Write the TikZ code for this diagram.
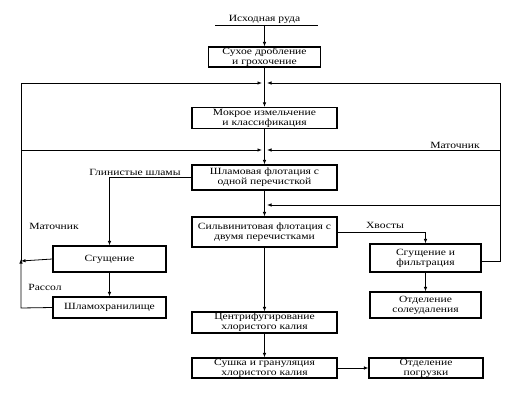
\documentclass[tikz,border=0pt]{standalone}
\usepackage{fontspec}
\setmainfont{Liberation Serif}[FakeStretch=1.22]
\usetikzlibrary{arrows.meta}
\begin{document}
\begin{tikzpicture}[x=1pt,y=-1pt,
  box/.style={draw,line width=1.1pt,align=center,inner sep=0pt,font=\fontsize{9.5}{10}\selectfont},
  lbl/.style={inner sep=0pt,font=\fontsize{9.5}{10}\selectfont},
  ar/.style={-{Latex[length=4.5pt,width=3.5pt]},line width=0.8pt},
  ln/.style={line width=0.8pt}]
\useasboundingbox (0,0) rectangle (505,411);
\node[lbl] (src) at (264.5,19) {Исходная руда};
\coordinate (srcL) at (215,25);
\coordinate (srcR) at (318,25);
\coordinate (srcM) at (264.5,25);
\draw[ln] (srcL) -- (srcR);
\node[box,minimum width=112pt,minimum height=20pt] (b1) at (264.5,57) {Сухое дробление\\и грохочение};
\node[box,minimum width=145pt,minimum height=21pt] (b2) at (264.5,118) {Мокрое измельчение\\и классификация};
\node[box,minimum width=145pt,minimum height=25pt] (b3) at (264.5,177.5) {Шламовая флотация с\\одной перечисткой};
\node[box,minimum width=145pt,minimum height=30pt] (b4) at (264.5,232) {Сильвинитовая флотация с\\двумя перечистками};
\node[box,minimum width=145pt,minimum height=21pt] (b5) at (264.5,322.5) {Центрифугирование\\хлористого калия};
\node[box,minimum width=145pt,minimum height=20pt] (b6) at (264.5,368) {Сушка и грануляция\\хлористого калия};
\node[box,minimum width=113pt,minimum height=26pt] (sg) at (109.5,259) {Сгущение};
\node[box,minimum width=113pt,minimum height=21pt] (sh) at (109.5,307.5) {Шламохранилище};
\node[box,minimum width=111pt,minimum height=28pt] (sf) at (425.5,258) {Сгущение и\\фильтрация};
\node[box,minimum width=111pt,minimum height=26pt] (so) at (425.5,305) {Отделение\\солеудаления};
\node[box,minimum width=114pt,minimum height=20pt] (op) at (426,368) {Отделение\\погрузки};

\node[lbl] (m1) at (455,145) {Маточник};
\node[lbl] (m2) at (54,226) {Маточник};
\node[lbl] (ras) at (45,287) {Рассол};
\node[lbl] (gl) at (135,172) {Глинистые шламы};
\node[lbl] (hv) at (385,225) {Хвосты};

\coordinate (L1) at (21,83);
\coordinate (L2) at (21,150);
\coordinate (Lsg) at (21,261);
\coordinate (Lsh) at (21,308);
\coordinate (R1) at (500,83);
\coordinate (R2) at (500,150);
\coordinate (R3) at (500,205);
\coordinate (Rsf) at (500,261);
\coordinate (J1l) at (262,83);
\coordinate (J1r) at (267,83);
\coordinate (J2l) at (262,150);
\coordinate (J2r) at (267,150);
\coordinate (J3r) at (267,205);

\draw[ar] (srcM) -- (b1.north);
\draw[ar] (b1.south) -- (b2.north);
\draw[ar] (b2.south) -- (b3.north);
\draw[ar] (b3.south) -- (b4.north);
\draw[ar] (b4.south) -- (b5.north);
\draw[ar] (b5.south) -- (b6.north);
\draw[ar] (b6.east) -- (op.west);
\draw[ar] (b4.east) -| (sf.north);
\draw[ar] (sf.south) -- (so.north);
\draw[ar] (b3.west) -| (sg.north);
\draw[ar] (sg.south) -- (sh.north);
\draw[ar] (sg.west) -- (Lsg);
\draw[ar] (sh.west) -- (Lsh) -- ([yshift=2pt]Lsg);
\draw[ln] (Lsg) -- (L1);
\draw[ar] (L1) -- (J1l);
\draw[ar] (L2) -- (J2l);
\draw[ln] (sf.east |- Rsf) -- (Rsf) -- (R1);
\draw[ar] (R1) -- (J1r);
\draw[ar] (R2) -- (J2r);
\draw[ar] (R3) -- (J3r);
\end{tikzpicture}
\end{document}
